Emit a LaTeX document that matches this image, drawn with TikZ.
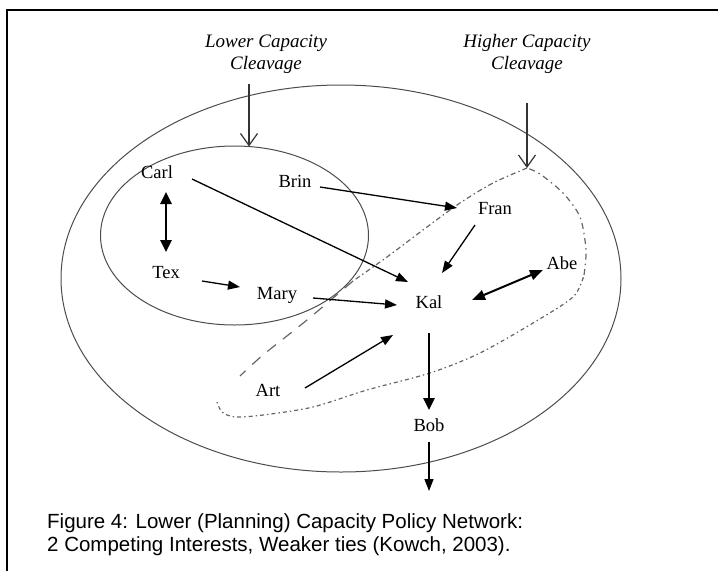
\documentclass[tikz,border=0pt]{standalone}
\usepackage{fontspec}
\setmainfont{Liberation Serif}
\newfontfamily\capfont{Liberation Sans}
\usetikzlibrary{arrows.meta,calc}
\begin{document}
\begin{tikzpicture}[x=1pt,y=-1pt,
  actor/.style={font=\fontsize{18.5}{20}\selectfont, inner sep=0pt, text height=12pt, text depth=0pt},
  cleave/.style={font=\fontsize{19}{22}\selectfont\itshape, align=center, inner sep=0pt},
  ring/.style={draw=black!70, line width=1pt},
  tie/.style={draw=black, line width=1.3pt, -{Triangle[length=12pt,width=9pt]}},
  strongtie/.style={draw=black, line width=2.6pt, -{Triangle[length=12pt,width=11pt]}},
  bothtie/.style={draw=black, line width=2.6pt, {Triangle[length=12pt,width=11pt]}-{Triangle[length=12pt,width=11pt]}},
  cut/.style={draw=black!80, line width=1.2pt, -{Straight Barb[length=12pt,width=17pt]}},
  bound/.style={draw=black!60, line width=1.2pt},
  captext/.style={anchor=base west, inner sep=0pt, font=\capfont\fontsize{20.5}{23}\selectfont}
]
\useasboundingbox (0,0) rectangle (718,571);

% frame
\draw[line width=2pt] (6.5,571) -- (6.5,10) -- (718,10);

% policy network and the lower capacity sub-network
\draw[ring] (341,278.5) ellipse [x radius=280, y radius=193.5];
\draw[ring] (234.5,235.5) ellipse [x radius=134, y radius=89.5];

% cleavage labels
\node[cleave] (lowlab) at (266,54) {Lower Capacity\\Cleavage};
\node[cleave] (highlab) at (527,54) {Higher Capacity\\Cleavage};
\coordinate (lowtip) at (249,146.5);
\coordinate (hightip) at (527,168);
\coordinate (exit) at (429,491);

% higher capacity boundary
\draw[bound, dash pattern=on 5pt off 3pt on 1.5pt off 3pt]
  plot[smooth] coordinates {(527,168) (493,183) (460,203) (427,227) (387,257) (353,281)};
\draw[bound, dash pattern=on 11pt off 9pt]
  plot[smooth] coordinates {(353,281) (307,320) (263,355) (240,376)};
\draw[bound, dash pattern=on 1.5pt off 3pt on 4pt off 3pt]
  plot[smooth] coordinates {(217,402) (222,412) (235,417) (263,415) (313,407) (367,390) (430,373) (480,353) (533,323) (573,297) (584,275)};
\draw[bound, dash pattern=on 6pt off 4pt on 1.5pt off 4pt]
  plot[smooth] coordinates {(584,275) (586,250) (580,217) (563,193) (540,174) (527,168)};

% actors
\node[actor] (carl) at (157,172) {Carl};
\node[actor] (brin) at (295,181) {Brin};
\node[actor] (tex)  at (166,272) {Tex};
\node[actor] (mary) at (277,293) {Mary};
\node[actor] (fran) at (495,208) {Fran};
\node[actor] (abe)  at (562,263) {Abe};
\node[actor] (kal)  at (429,302) {Kal};
\node[actor] (art)  at (268,390) {Art};
\node[actor] (bob)  at (429,425) {Bob};

% cleavage arrows
\draw[cut] ($(lowtip)+(0,-63)$) -- (lowtip);
\draw[cut] ($(hightip)+(0,-65)$) -- (hightip);

% ties
\draw[bothtie] ($(tex)+(0,-80)$) -- ($(tex)+(0,-20)$);
\draw[tie] ($(carl)+(35,7)$) -- ($(kal)+(-21,-20)$);
\draw[tie] ($(brin)+(25,6)$) -- ($(fran)+(-38,0)$);
\draw[tie] ($(fran)+(-20,17)$) -- ($(kal)+(13,-29)$);
\draw[tie] ($(tex)+(36,9)$) -- ($(mary)+(-37,-6)$);
\draw[tie] ($(mary)+(36,5)$) -- ($(kal)+(-32,3)$);
\draw[draw=black, line width=2pt, {Triangle[length=13pt,width=10pt]}-{Triangle[length=13pt,width=10pt]}]
  ($(kal)+(43,-2)$) -- ($(abe)+(-19,7)$);
\draw[tie] ($(art)+(37,-2)$) -- ($(kal)+(-36,33)$);
\draw[strongtie] ($(kal)+(0,31)$) -- ($(bob)+(0,-15)$);
\draw[tie] ($(bob)+(0,17)$) -- (exit);

% caption
\node[captext] (cap1) at (47,528) {Figure 4: Lower (Planning) Capacity Policy Network:};
\node[captext] (cap2) at (47,551) {2 Competing Interests, Weaker ties (Kowch, 2003).};
\end{tikzpicture}
\end{document}
